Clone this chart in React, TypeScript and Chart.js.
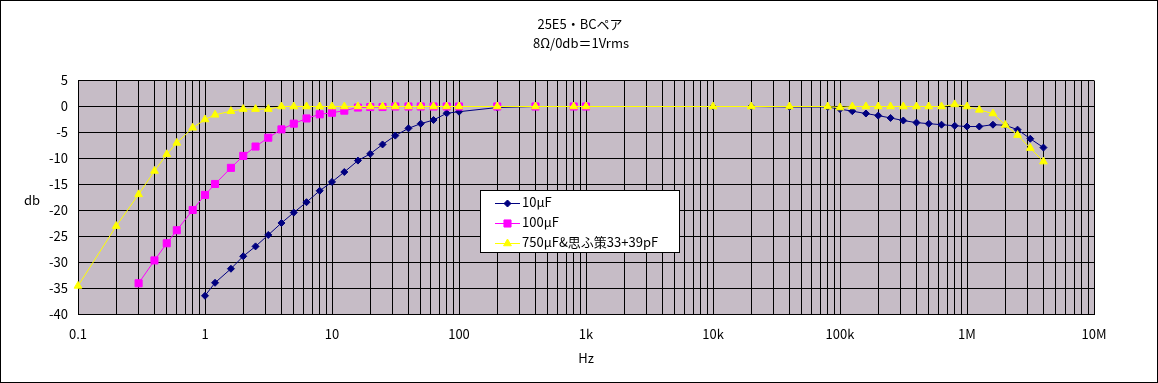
import React, { useEffect, useRef } from "react";
import { Chart, registerables } from "chart.js";
import { drawPoint } from "chart.js/helpers";
Chart.register(...registerables);

const TITLE_LINE1 = "25E5・BCペア";
const TITLE_LINE2 = "8Ω/0db＝1Vrms";
const X_TITLE = "Hz";
const Y_TITLE = "db";

const SERIES_NAMES = ["10μF", "100μF", "750μF&思ふ策33+39pF"];

const freq10uF = [1, 1.2, 1.6, 2, 2.5, 3.15, 4, 5, 6.3, 8, 10, 12.5, 16, 20, 25, 31.5, 40, 50, 63, 80, 100, 200, 400, 800, 1000, 10000, 20000, 40000, 80000, 100000, 125000, 160000, 200000, 250000, 315000, 400000, 500000, 630000, 800000, 1000000, 1250000, 1600000, 2000000, 2500000, 3150000, 4000000];
const db10uF = [-36.4, -33.9, -31.2, -28.8, -26.9, -24.7, -22.4, -20.4, -18.4, -16.2, -14.5, -12.6, -10.4, -9.1, -7.3, -5.6, -4.2, -3.3, -2.6, -1.3, -1.0, -0.2, 0, 0, 0, 0, 0, -0.1, -0.1, -0.5, -0.9, -1.35, -1.75, -2.2, -2.7, -3.1, -3.3, -3.5, -3.7, -3.85, -3.85, -3.5, -3.6, -4.45, -6.2, -7.9];

const freq100uF = [0.3, 0.4, 0.5, 0.6, 0.8, 1, 1.2, 1.6, 2, 2.5, 3.15, 4, 5, 6.3, 8, 10, 12.5, 16, 20, 25, 31.5, 40, 50, 63, 80, 100, 200, 400, 800, 1000];
const db100uF = [-34.0, -29.6, -26.3, -23.8, -19.9, -17.0, -14.9, -11.8, -9.5, -7.7, -6.0, -4.4, -3.3, -2.3, -1.5, -1.2, -0.8, -0.2, -0.1, -0.1, 0, 0, 0, 0, 0, 0, 0, 0, 0, 0];

const freq750uF = [0.1, 0.2, 0.3, 0.4, 0.5, 0.6, 0.8, 1, 1.2, 1.6, 2, 2.5, 3.15, 4, 5, 6.3, 8, 10, 12.5, 16, 20, 25, 31.5, 40, 50, 63, 80, 100, 200, 400, 800, 1000, 10000, 20000, 40000, 80000, 100000, 125000, 160000, 200000, 250000, 315000, 400000, 500000, 630000, 800000, 1000000, 1250000, 1600000, 2000000, 2500000, 3150000, 4000000];
const db750uF = [-34.5, -23.0, -16.9, -12.4, -9.2, -7.0, -4.1, -2.5, -1.6, -0.9, -0.5, -0.5, -0.5, 0, 0, 0, 0, 0, 0, 0, 0, 0, 0, 0, 0, 0, 0, 0, 0, 0, 0, 0, 0, 0, 0, 0, -0.2, 0, 0, 0, 0, 0, 0, 0, 0, 0.4, 0, -0.65, -1.35, -3.55, -5.5, -8.0, -10.6];

const X_MAJOR_LABELS: Record<string, string> = {
  "0.1": "0.1", "1": "1", "10": "10", "100": "100", "1000": "1k",
  "10000": "10k", "100000": "100k", "1000000": "1M", "10000000": "10M",
};
const X_MIN = 0.1;
const X_MAX = 10000000;
const Y_MIN = -40;
const Y_MAX = 5;
const Y_STEP = 5;

const COLORS = ["#000080", "#FF00FF", "#FFFF00"];
const STYLES = ["rectRot", "rect", "triangle"];
const RADII = [3.5, 5, 4.5];

const PLOT_BG = "#c6bcc6";
const FONT = "'Noto Sans CJK JP', 'Liberation Sans', sans-serif";

function buildXTicks(): number[] {
  const out: number[] = [];
  for (let e = -1; e <= 6; e++) {
    for (let m = 1; m <= 9; m++) out.push(Number((m * Math.pow(10, e)).toPrecision(3)));
  }
  out.push(X_MAX);
  return out;
}

export default function App() {
  const ref = useRef<HTMLCanvasElement>(null);
  useEffect(() => {
    const canvas = ref.current!;
    const xTicks = buildXTicks();

    const decor = {
      id: "decor",
      beforeDraw(chart: any) {
        const { ctx, chartArea: a } = chart;
        ctx.save();
        ctx.fillStyle = PLOT_BG;
        ctx.fillRect(a.left, a.top, a.right - a.left, a.bottom - a.top);
        ctx.restore();
      },
      afterDraw(chart: any) {
        const ctx = chart.ctx as CanvasRenderingContext2D;
        ctx.save();
        ctx.fillStyle = "#000";
        ctx.textAlign = "center";
        ctx.textBaseline = "middle";
        ctx.font = `13px ${FONT}`;
        ctx.fillText(TITLE_LINE1, 579, 23);
        ctx.fillText(TITLE_LINE2, 580, 42);
        ctx.fillText(Y_TITLE, 31, 199);
        ctx.fillText(X_TITLE, 585, 357);

        // legend
        const lx = 479, ly = 189, lw = 199, lh = 62;
        ctx.fillStyle = "#fff";
        ctx.fillRect(lx, ly, lw, lh);
        ctx.strokeStyle = "#000";
        ctx.lineWidth = 1;
        ctx.strokeRect(lx + 0.5, ly + 0.5, lw, lh);
        const rows = [201.5, 221.5, 241.5];
        SERIES_NAMES.forEach((name, i) => {
          const y = rows[i];
          ctx.strokeStyle = COLORS[i];
          ctx.beginPath();
          ctx.moveTo(494, Math.round(y) + 0.5);
          ctx.lineTo(519, Math.round(y) + 0.5);
          ctx.stroke();
          ctx.fillStyle = COLORS[i];
          drawPoint(ctx, { pointStyle: STYLES[i] as any, radius: RADII[i], rotation: 0, borderWidth: 1 } as any, 506.5, Math.round(y) + 0.5);
          ctx.fillStyle = "#000";
          ctx.textAlign = "left";
          ctx.fillText(name, 521, y);
        });
        ctx.restore();
      },
    };

    const mk = (fx: number[], vy: number[], i: number, order: number) => ({
      label: SERIES_NAMES[i],
      data: fx.map((f, k) => ({ x: f, y: vy[k] })),
      borderColor: COLORS[i],
      backgroundColor: COLORS[i],
      pointBackgroundColor: COLORS[i],
      pointBorderColor: COLORS[i],
      borderWidth: 1,
      pointStyle: STYLES[i],
      pointRadius: RADII[i],
      pointBorderWidth: 1,
      tension: 0,
      clip: false as any,
      order,
    });

    const chart = new Chart(canvas, {
      type: "line",
      data: {
        datasets: [
          mk(freq10uF, db10uF, 0, 3),
          mk(freq100uF, db100uF, 1, 2),
          mk(freq750uF, db750uF, 2, 1),
        ] as any,
      },
      options: {
        animation: false,
        responsive: false,
        layout: { padding: { top: 79.5, right: 63, left: 0, bottom: 0 } },
        plugins: {
          legend: { display: false },
          title: { display: false },
          tooltip: { enabled: false },
        },
        scales: {
          x: {
            type: "logarithmic",
            min: X_MIN,
            max: X_MAX,
            afterBuildTicks: (s: any) => {
              s.ticks = xTicks.map((v) => ({ value: v }));
            },
            afterFit: (s: any) => {
              s.height = 67.5;
            },
            grid: { color: "#000", lineWidth: 1, drawTicks: false },
            border: { color: "#000", width: 1 },
            ticks: {
              autoSkip: false,
              maxRotation: 0,
              minRotation: 0,
              padding: 12,
              color: "#000",
              font: { family: FONT, size: 13 },
              callback: (v: any) => X_MAJOR_LABELS[String(v)] ?? "",
            },
          },
          y: {
            type: "linear",
            min: Y_MIN,
            max: Y_MAX,
            afterFit: (s: any) => {
              s.width = 77;
            },
            grid: { color: "#000", lineWidth: 1, drawTicks: false },
            border: { color: "#000", width: 1 },
            ticks: {
              stepSize: Y_STEP,
              padding: 10,
              color: "#000",
              font: { family: FONT, size: 13 },
            },
          },
        },
      },
      plugins: [decor],
    } as any);
    return () => chart.destroy();
  }, []);
  return (
    <div
      style={{
        position: "absolute",
        left: 0,
        top: 0,
        width: 1158,
        height: 383,
        border: "1px solid #000",
        boxSizing: "border-box",
        background: "#fff",
      }}
    >
      <canvas ref={ref} width={1156} height={381} style={{ display: "block", width: 1156, height: 381 }} />
    </div>
  );
}
